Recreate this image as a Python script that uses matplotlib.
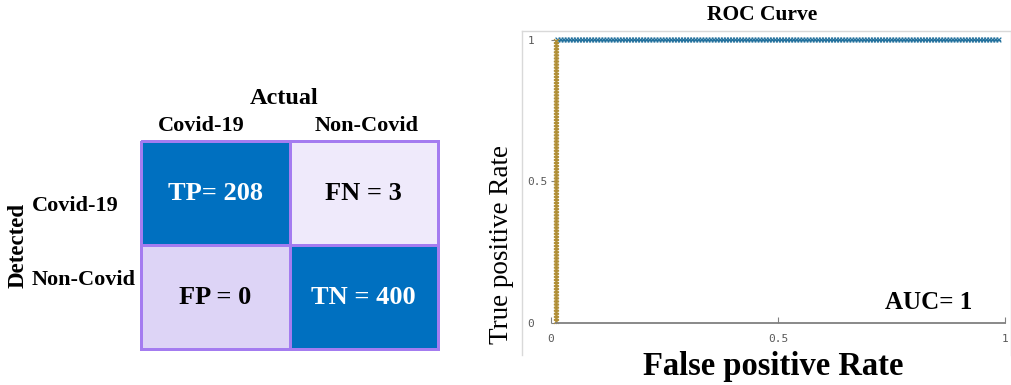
import matplotlib
matplotlib.use("Agg")
import matplotlib.pyplot as plt
from matplotlib.colors import ListedColormap
from matplotlib.lines import Line2D
from matplotlib import patheffects
import numpy as np

# ---------------- data ----------------
cm_values = [[208, 3], [0, 400]]
cm_names = [["TP= ", "FN = "], ["FP = ", "TN = "]]
actual_labels = ["Covid-19", "Non-Covid"]
detected_labels = ["Covid-19", "Non-Covid"]
cell_colors = ["#0070C0", "#EFEAFB", "#DDD4F6", "#0070C0"]
text_colors = [["white", "black"], ["black", "white"]]

roc_fpr_vertical = [0.012, 0.012]
roc_tpr_vertical = [0.0, 1.0]
roc_fpr_horizontal = [0.012, 0.99]
roc_tpr_horizontal = [1.0, 1.0]
auc_value = 1
roc_ticks = [0, 0.5, 1]
roc_tick_labels = ["0", "0.5", "1"]

# ---------------- figure ----------------
W, H = 1012, 385
fig = plt.figure(figsize=(W / 100, H / 100), dpi=100)
SERIF = "Liberation Serif"


def fx(x):
    return x / W


def fy(y):
    return 1 - y / H


# ---------------- confusion matrix ----------------
ax_cm = fig.add_axes([fx(141), fy(349), (438 - 141) / W, (349 - 141) / H])
idx = np.array([[0, 1], [2, 3]])
mesh = ax_cm.pcolormesh(idx, cmap=ListedColormap(cell_colors), vmin=-0.5, vmax=3.5,
                        edgecolors="#A47CF0", linewidth=2)
mesh.set_clip_on(False)
ax_cm.set_xlim(0, 2)
ax_cm.set_ylim(2, 0)
ax_cm.axis("off")
for i in range(2):
    for j in range(2):
        ax_cm.text(j + 0.5, i + 0.5, f"{cm_names[i][j]}{cm_values[i][j]}",
                   ha="center", va="center", fontsize=19, fontweight="bold",
                   family=SERIF, color=text_colors[i][j])

fig.text(fx(284), fy(99), "Actual", ha="center", va="center", fontsize=17.5,
         fontweight="bold", family=SERIF)
for x, lab in zip([201, 367], actual_labels):
    fig.text(fx(x), fy(126), lab, ha="center", va="center", fontsize=16,
             fontweight="bold", family=SERIF)
for y, lab in zip([206, 280], detected_labels):
    fig.text(fx(32), fy(y), lab, ha="left", va="center", fontsize=16,
             fontweight="bold", family=SERIF)
fig.text(fx(18), fy(245), "Detected", ha="center", va="center", rotation=90,
         fontsize=16.5, fontweight="bold", family=SERIF)

# ---------------- ROC curve ----------------
frame_c = "#D9D9D9"
fig.add_artist(Line2D([fx(522), fx(522)], [fy(31), fy(355)], color=frame_c, lw=1))
fig.add_artist(Line2D([fx(522), fx(1011)], [fy(31), fy(31)], color=frame_c, lw=1))
fig.add_artist(Line2D([fx(1011), fx(1011)], [fy(31), fy(355)], color=frame_c, lw=1))

ax = fig.add_axes([fx(551), fy(323), 454 / W, (323 - 40) / H])
ax.set_xlim(0, 1)
ax.set_ylim(0, 1)
ax.patch.set_alpha(0)
for s in ["top", "right", "left"]:
    ax.spines[s].set_visible(False)
ax.spines["bottom"].set_color("#808080")
ax.spines["bottom"].set_linewidth(1.3)
ax.spines["bottom"].set_bounds(0.012, 1)


def cross_effects():
    effs = [patheffects.TickedStroke(spacing=2.2, angle=a, length=0.9)
            for a in (45, -135, 135, -45)]
    return effs + [patheffects.Normal()]


ax.plot(roc_fpr_horizontal, roc_tpr_horizontal, color="#24729E", lw=0.9,
        clip_on=False, path_effects=cross_effects())
ax.plot(roc_fpr_vertical, roc_tpr_vertical, color="#B08E35", lw=0.9,
        clip_on=False, path_effects=cross_effects())

ax.set_xticks(roc_ticks)
ax.set_xticklabels(roc_tick_labels, family="DejaVu Sans Mono", fontsize=8, color="#595959")
ax.set_yticks(roc_ticks)
ax.set_yticklabels(roc_tick_labels, family="DejaVu Sans Mono", fontsize=8, color="#595959")
ax.tick_params(axis="x", direction="in", length=4, color="#808080", pad=8)
ax.tick_params(axis="y", direction="in", length=3, color="#808080", pad=17)
for lab in ax.get_yticklabels():
    lab.set_horizontalalignment("left")

ax.text(0.736, 0.074, f"AUC= {auc_value}", ha="left", va="center", fontsize=18,
        fontweight="bold", family=SERIF)

fig.text(fx(762), fy(15), "ROC Curve", ha="center", va="center", fontsize=15.5,
         fontweight="bold", family=SERIF)
fig.text(fx(773), fy(367), "False positive Rate", ha="center", va="center",
         fontsize=23.5, fontweight="bold", family=SERIF)
fig.text(fx(502), fy(244), "True positive Rate", ha="center", va="center",
         rotation=90, fontsize=19.5, family=SERIF)

fig.savefig("out.png", dpi=100)
